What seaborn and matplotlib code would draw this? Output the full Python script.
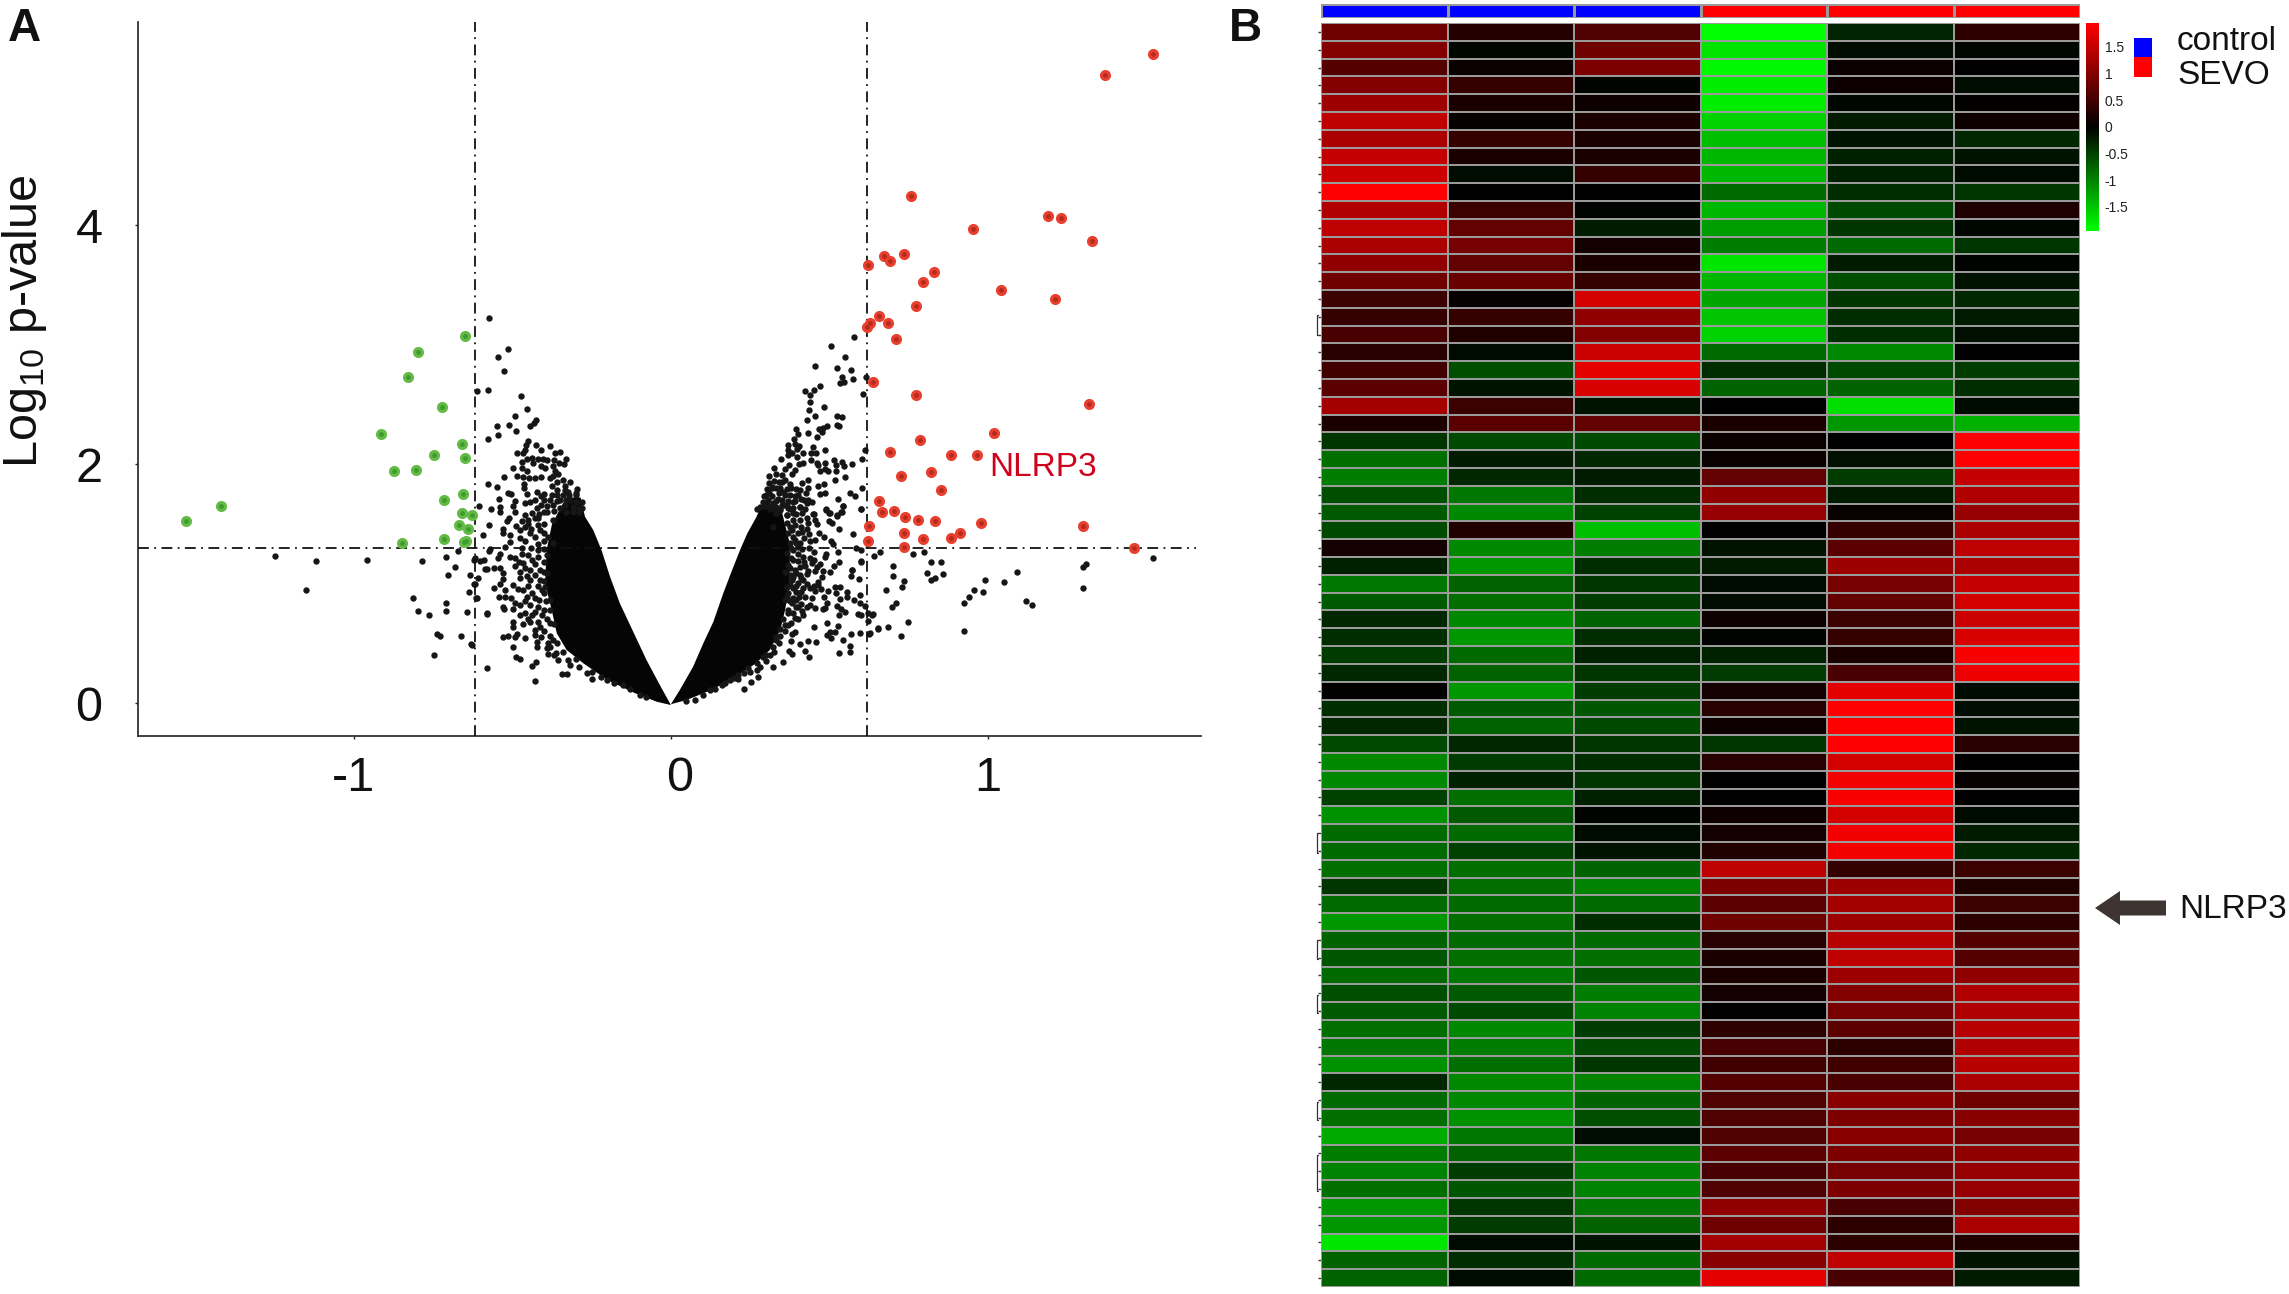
import numpy as np
import pandas as pd
import seaborn as sns
import matplotlib.pyplot as plt
from matplotlib.colors import LinearSegmentedColormap, ListedColormap
from matplotlib.patches import Rectangle, FancyArrow
from matplotlib.transforms import ScaledTranslation

W, H = 2289, 1294

# volcano: significant genes
up_genes = [(1.52,5.43),(1.37,5.26),(.756,4.24),(1.19,4.08),(1.23,4.06),(.953,3.97),(1.329,3.87),(.735,3.76),
    (.672,3.74),(.69,3.70),(.622,3.67),(.829,3.61),(.794,3.52),(1.04,3.46),(1.21,3.38),(.773,3.32),(.657,3.24),
    (.684,3.18),(.629,3.18),(.62,3.15),(.71,3.05),(.638,2.69),(.772,2.58),(1.32,2.50),(1.02,2.26),(.785,2.20),
    (.69,2.10),(.885,2.08),(.967,2.08),(.726,1.90),(.821,1.93),(.852,1.78),(.655,1.69),(.665,1.60),(.703,1.61),
    (.738,1.56),(.78,1.53),(.832,1.52),(.977,1.51),(1.30,1.48),(.626,1.48),(.735,1.42),(.912,1.42),(.883,1.38),
    (.795,1.37),(.621,1.36),(.736,1.31),(1.46,1.30)]
down_genes = [(-.651,3.07),(-.798,2.94),(-.83,2.73),(-.723,2.48),(-.913,2.25),(-.66,2.17),(-.748,2.08),(-.648,2.05),
    (-.873,1.94),(-.805,1.95),(-.657,1.75),(-.717,1.70),(-1.42,1.65),(-1.53,1.52),(-.66,1.59),(-.627,1.57),
    (-.667,1.49),(-.64,1.46),(-.715,1.37),(-.645,1.36),(-.654,1.35),(-.849,1.34)]

# volcano: not significant, scattered genes
right_low = [(.451,.639),(.491,.667),(.526,.644),(.390,.597),(.382,.577),(.502,.597),(.519,.597),(.491,.569),(.504,.547),
    (.380,.519),(.408,.494),(.431,.522),(.457,.510),(.542,.527),(.567,.577),(.596,.583),(.628,.583),(.653,.625),(.566,.480),
    (.564,.430),(.529,.418),(.422,.435),(.434,.388),(.374,.438),(.382,.410),(.354,.340),(.321,.304),(.276,.220),(.251,.176),
    (.231,.120),(.370,.653),(.417,.736),(.438,.820),(.454,.792),(.486,.792),(.491,.834),(.484,.890),(.496,.940),(.517,.968),
    (.534,.973),(.521,.923),(.555,.926),(.556,.884),(.534,.868),(.579,.862),(.597,.907),(.596,.840),(.612,.815),(.525,.812),
    (.536,.784),(.549,.764),(.530,.734),(.589,.742),(.600,.736),(.623,.750),(.636,.748),(.623,.689),(.452,.979),(.465,.987),
    (.456,.937),(.473,.951),(.477,1.052),(.465,1.015),(.502,1.099),(.481,1.105),(.514,1.146),(.531,1.183),(.572,1.113),
    (.569,1.063),(.592,1.035),(.601,1.185),(.489,1.244),(.487,1.219),(.528,1.266),(.470,1.163),(.462,1.141),(.451,1.197),
    (.444,1.169),(.454,1.107),(.433,1.107),(.424,1.146),(.584,1.300),(.599,1.280),(.484,1.386),(.505,1.358),(.510,1.331),
    (.531,1.453),(.573,1.411),(.468,1.425),(.455,1.364),(.436,1.411),(.415,1.431),(.507,1.503),(.499,1.526),(.488,1.615),
    (.501,1.593),(.523,1.568),(.540,1.601),(.544,1.649),(.601,1.621),(.447,1.582),(.455,1.531),(.460,1.498),(.433,1.509),
    (.407,1.531),(.386,1.531),(.365,1.573),(.381,1.448),(.391,1.364),(.386,1.280),(.407,1.336),(.417,1.225),(.407,1.141),
    (.391,1.113),(.381,1.029),(.402,1.001),(.417,.960),(.423,.890),(.396,.862),(.381,.834),(.365,.890),(.386,.750),(.370,.750),
    (.444,.876),(.481,.784),(.323,.471),(.333,.527),(.312,.402),(.291,.388),(.270,.332),(.270,.276),(.244,.290),(.213,.234),
    (.213,.198),(.186,.192),(.160,.151),(.123,.109),(.076,.025),(.049,.017),(.36,.6),(.345,.56),(.33,.55),
    (.302,1.685),(.323,1.643),(.344,1.615),(.365,1.657),(.386,1.629),(.407,1.643),(.428,1.671),(.333,1.587),(.365,1.503),
    (.322,1.475),(.370,1.420),(.386,1.392),(.402,1.308),(.375,1.336),(.365,1.253),(.386,1.197),(.370,1.155),(.360,1.099),
    (.386,1.057),(.407,1.071),(.365,.974),(.386,.960),(.370,.918),(.396,.932),(.417,1.029),(.360,.862),(.402,.806),(.428,.806)]
right_band = [(.375,1.62),(.395,1.58),(.415,1.59),(.43,1.55),(.39,1.49),(.41,1.47),(.43,1.46),(.375,1.47),(.40,1.42),(.42,1.38),
    (.44,1.36),(.395,1.34),(.38,1.30),(.415,1.29),(.435,1.30),(.45,1.26),(.40,1.25),(.38,1.21),(.42,1.18),(.44,1.21),(.40,1.19),
    (.375,1.13),(.43,1.08),(.41,1.05),(.395,1.09),(.38,1.07),(.375,.99),(.395,.98),(.41,.93),(.43,1.0),(.44,.96),(.385,.88),
    (.405,.89),(.375,.85),(.395,.80),(.41,.83),(.415,.77),(.37,.78),(.39,.71),(.38,.67),(.40,.70),(.355,.70),(.36,.65),(.345,.62),
    (.34,.50),(.325,.43),(.30,.40),(.30,.35),(.28,.30),(.25,.26),(.23,.25),(.20,.21),(.17,.17),(.14,.12),(.10,.07),
    (.30,1.74),(.32,1.73),(.34,1.76),(.36,1.74),(.31,1.76),(.33,1.69),(.35,1.70),(.37,1.69),(.39,1.73),(.41,1.71),(.29,1.68),
    (.345,1.80),(.365,1.79),(.38,1.80),(.34,1.85),(.36,1.87),(.40,1.74),(.42,1.70),(.32,1.81),(.385,1.68),(.31,1.65),(.33,1.64),
    (.35,1.66),(.37,1.63)]
right_high = [(.577,3.06),(.506,2.99),(.549,2.90),(.456,2.82),(.524,2.80),(.569,2.79),(.614,2.73),(.541,2.73),(.573,2.71),
    (.547,2.69),(.533,2.68),(.469,2.65),(.451,2.62),(.424,2.61),(.439,2.58),(.606,2.59),(.439,2.52),(.482,2.48),(.435,2.45),
    (.455,2.40),(.523,2.40),(.539,2.39),(.430,2.37),(.523,2.33),(.529,2.32),(.491,2.32),(.481,2.30),(.466,2.29),(.395,2.29),
    (.478,2.27),(.431,2.26),(.402,2.25),(.462,2.23),(.389,2.21),(.391,2.17),(.370,2.16),(.405,2.15),(.449,2.14),(.399,2.13),
    (.486,2.12),(.370,2.12),(.611,2.12),(.381,2.09),(.370,2.08),(.418,2.09),(.441,2.09),(.458,2.09),(.399,2.06),(.347,2.04),
    (.441,2.03),(.603,2.04),(.514,2.03),(.462,2.01),(.418,2.01),(.486,2.01),(.540,2.02),(.405,2.00),(.520,1.99),(.570,2.00),
    (.373,1.99),(.465,1.99),(.546,1.98),(.326,1.97),(.360,1.96),(.391,1.95),(.486,1.96),(.471,1.94),(.494,1.94),(.521,1.94),
    (.333,1.92),(.349,1.91),(.310,1.90),(.381,1.92),(.549,1.89),(.518,1.87),(.431,1.87),(.326,1.86),(.310,1.84),(.413,1.84),
    (.483,1.83),(.349,1.85),(.376,1.83),(.465,1.82),(.433,1.80),(.318,1.80),(.333,1.80),(.304,1.79),(.396,1.79),(.603,1.80),
    (.352,1.77),(.407,1.78),(.487,1.76),(.426,1.76),(.566,1.76),(.580,1.73),(.293,1.73),(.470,1.75),(.376,1.74),(.338,1.71),
    (.526,1.71),(.391,1.69),(.433,1.70),(.307,1.70),(.281,1.64),(.446,1.68),(.356,1.66),(.407,1.64),(.544,1.65),(.489,1.62),
    (.601,1.62),(.273,1.62),(.423,1.62),(.499,1.59),(.525,1.57),(.451,1.58),(.538,1.60),(.323,1.67),(.312,1.62),(.333,1.59),
    (.297,1.65),(.344,1.62),(.365,1.57),(.386,1.59)]
right_far = [(.640,1.23),(.659,1.26),(.699,1.15),(.762,1.25),(.798,1.26),(.821,1.18),(.852,1.18),(.807,1.09),(.859,1.08),
    (.833,1.05),(.819,1.03),(.699,1.06),(.736,1.02),(.730,.97),(.678,.95),(.711,.84),(.697,.80),(.991,1.03),(1.050,1.01),
    (1.091,1.10),(.956,.95),(.940,.89),(.983,.93),(.925,.84),(1.121,.85),(1.140,.82),(1.300,1.14),(1.309,1.16),(1.300,.96),
    (1.520,1.21),(.748,.68),(.684,.64),(.653,.62),(.726,.56),(.926,.60),(.633,.74),(.626,.58),(.601,1.18),(.570,1.11)]
left_high = [(-.575,3.22),(-.513,2.96),(-.546,2.90),(-.525,2.78),(-.611,2.61),(-.578,2.62),(-.474,2.57),(-.455,2.46),(-.493,2.40),
    (-.550,2.32),(-.510,2.33),(-.426,2.37),(-.431,2.34),(-.444,2.32),(-.488,2.28),(-.545,2.24),(-.578,2.21),(-.450,2.19),
    (-.457,2.16),(-.426,2.16),(-.381,2.15),(-.410,2.12),(-.485,2.09),(-.461,2.12),(-.466,2.09),(-.366,2.09),(-.350,2.10),
    (-.330,2.04),(-.471,2.02),(-.453,2.04),(-.437,2.05),(-.434,2.01),(-.418,2.04),(-.405,2.04),(-.390,2.03),(-.368,2.03),
    (-.353,2.01),(-.336,2.00),(-.411,1.98),(-.396,1.97),(-.371,1.98),(-.499,1.97),(-.469,1.97),(-.454,1.94),(-.366,1.94),
    (-.355,1.92),(-.528,1.89),(-.487,1.90),(-.466,1.89),(-.447,1.88),(-.429,1.88),(-.410,1.89),(-.382,1.88),(-.371,1.90),
    (-.342,1.87),(-.358,1.85),(-.319,1.85),(-.576,1.83),(-.550,1.81),(-.463,1.83),(-.463,1.80),(-.376,1.82),(-.334,1.82),
    (-.295,1.79),(-.513,1.76),(-.506,1.75),(-.453,1.75),(-.424,1.77),(-.400,1.75),(-.358,1.78),(-.324,1.77),(-.376,1.74),
    (-.298,1.74),(-.543,1.71),(-.411,1.73),(-.491,1.69),(-.429,1.70),(-.400,1.70),(-.445,1.68),(-.461,1.67),(-.350,1.70),
    (-.319,1.70),(-.282,1.68),(-.605,1.65),(-.569,1.62),(-.539,1.64),(-.499,1.65),(-.421,1.63),(-.371,1.66),(-.334,1.66),
    (-.308,1.64),(-.289,1.63)]
left_low = [(-.539,1.60),(-.574,1.49),(-.594,1.41),(-.529,1.46),(-.510,1.55),(-.492,1.60),(-.461,1.57),(-.439,1.59),(-.518,1.52),
    (-.529,1.42),(-.507,1.41),(-.476,1.45),(-.450,1.50),(-.419,1.55),(-.392,1.60),(-.507,1.35),(-.524,1.31),(-.476,1.38),
    (-.445,1.42),(-.413,1.45),(-.571,1.29),(-.573,1.27),(-.539,1.25),(-.545,1.21),(-.618,1.21),(-.602,1.19),(-.590,1.20),
    (-.508,1.22),(-.492,1.21),(-.471,1.25),(-.439,1.20),(-.419,1.28),(-.492,1.15),(-.466,1.17),(-.587,1.12),(-.579,1.12),
    (-.558,1.13),(-.539,1.13),(-.529,1.09),(-.476,1.10),(-.445,1.11),(-.413,1.11),(-.476,1.05),(-.608,1.05),(-.531,1.04),
    (-.445,1.03),(-.413,1.03),(-.621,1.00),(-.539,.996),(-.497,.987),(-.558,.960),(-.524,.946),(-.482,.951),(-.468,.946),
    (-.437,.923),(-.408,.946),(-.613,.876),(-.543,.890),(-.522,.890),(-.506,.876),(-.455,.890),(-.492,.834),(-.476,.820),
    (-.529,.801),(-.526,.784),(-.497,.784),(-.445,.820),(-.419,.806),(-.461,.750),(-.581,.748),(-.476,.736),(-.497,.681),
    (-.439,.736),(-.408,.736),(-.466,.661),(-.445,.681),(-.497,.633),(-.413,.639),(-.382,.667),(-.529,.550),(-.513,.563),
    (-.492,.550),(-.487,.575),(-.461,.547),(-.429,.569),(-.421,.513),(-.497,.471),(-.424,.471),(-.387,.499),(-.629,.485),
    (-.489,.382),(-.476,.371),(-.388,.410),(-.579,.296),(-.426,.340),(-.438,.310),(-.355,.360),(-.324,.360),(-.319,.318),
    (-.343,.240),(-.327,.243),(-.429,.181),(-.266,.248),(-.248,.201),(-.203,.192),(-.150,.151),(-.098,.067),(-.382,.471),
    (-.371,.527),(-.361,.416),(-.382,.862),(-.397,.973),(-.392,1.085),(-.371,1.336),(-.387,1.392),(-.371,1.531)]
left_band = [(-.40,1.60),(-.415,1.58),(-.43,1.55),(-.45,1.53),(-.47,1.52),(-.40,1.50),(-.42,1.49),(-.44,1.46),(-.46,1.47),(-.49,1.48),
    (-.40,1.42),(-.43,1.39),(-.46,1.36),(-.40,1.36),(-.42,1.33),(-.44,1.30),(-.47,1.30),(-.40,1.29),(-.39,1.24),(-.42,1.22),(-.45,1.24),
    (-.48,1.18),(-.40,1.18),(-.43,1.16),(-.46,1.13),(-.40,1.10),(-.43,1.07),(-.455,1.06),(-.40,1.02),(-.42,.98),(-.45,.98),(-.40,.92),
    (-.43,.88),(-.46,.85),(-.395,.85),(-.415,.86),(-.38,.78),(-.40,.78),(-.43,.76),(-.45,.70),(-.39,.70),(-.42,.68),(-.37,.66),(-.40,.60),
    (-.43,.61),(-.38,.56),(-.41,.55),(-.36,.50),(-.39,.46),(-.34,.43),(-.37,.40),(-.30,.37),(-.29,.30),(-.25,.26),(-.22,.22),(-.18,.17),
    (-.13,.12),(-.08,.05),(-.33,1.60),(-.35,1.63),(-.37,1.61),(-.39,1.65),(-.41,1.66),(-.31,1.60),(-.29,1.60),(-.28,1.63),(-.36,1.69),
    (-.38,1.70),(-.33,1.70),(-.30,1.68),(-.32,1.74),(-.34,1.74),(-.36,1.74),(-.30,1.76),(-.335,1.78)]
left_far = [(-1.25,1.23),(-1.121,1.19),(-.958,1.20),(-.785,1.19),(-.711,1.22),(-.672,1.27),(-.682,1.14),(-.704,1.07),(-.635,1.07),
    (-.621,1.20),(-.618,1.00),(-1.15,.95),(-.813,.88),(-.797,.77),(-.763,.74),(-.710,.84),(-.711,.77),(-.643,.76),(-.636,.93),
    (-.737,.58),(-.727,.56),(-.662,.56),(-.632,.49),(-.746,.40),(-.614,.88),(-.581,.75)]

# outline of the solid black wedges, where the genes cannot be told apart
wedge_right = [(0,-.01),(.028,.109),(.070,.304),(.102,.499),(.134,.681),(.165,.918),(.191,1.099),(.218,1.280),(.241,1.420),
    (.270,1.559),(.293,1.70),(.35,1.60),(.375,1.336),(.375,1.001),(.36,.778),(.345,.611),(.312,.444),(.268,.332),
    (.205,.220),(.128,.109),(.049,.025)]
wedge_left = [(0,-.017),(-.035,.151),(-.077,.360),(-.119,.597),(-.161,.834),(-.192,1.057),(-.219,1.280),(-.245,1.448),
    (-.271,1.559),(-.285,1.72),(-.33,1.72),(-.375,1.5),(-.392,1.28),(-.397,1.001),(-.376,.778),(-.36,.583),(-.329,.444),(-.276,.332),
    (-.2,.192),(-.112,.081),(-.045,.011)]

fc_cut = [-0.618, 0.618]
p_cut = 1.3
x_ticks = [-1, 0, 1]
y_ticks = [0, 2, 4]

# heatmap, one row per gene: control x3, SEVO x3
rows_top = [[.86,.28,.6,-1.95,-.28,.35],[1.0,-.05,.85,-1.75,-.1,-.05],[.65,.08,.95,-1.9,.08,0],[1.0,.4,-.03,-1.8,.1,-.1],
    [1.2,.2,.1,-1.8,-.05,.02],[1.45,.05,.2,-1.6,-.2,.12],[1.3,.4,.2,-1.45,-.15,-.3],[1.5,.2,.2,-1.4,-.25,-.15],
    [1.55,-.1,.4,-1.4,-.25,-.08],[1.95,0,0,-.8,-.35,-.4],[1.35,.45,-.02,-1.4,-.55,.22],[1.45,.75,-.2,-1.2,-.4,-.05],
    [1.3,.9,.15,-.95,-.8,-.4],[1.1,.75,.2,-1.75,-.2,-.03],[.85,.8,.4,-1.4,-.6,-.15],[.45,.05,1.6,-1.25,-.4,-.3],
    [.4,.4,1.1,-1.5,-.35,-.2],[.55,.25,1.0,-1.6,-.35,-.12],[.3,-.08,1.55,-.8,-1.05,0],[.5,-.6,1.75,-.35,-.55,-.45],
    [.7,-.15,1.65,-.75,-.75,-.35],[1.25,.45,-.15,0,-1.7,-.08],[.2,.7,.75,.2,-1.15,-1.35],[-.4,-.55,-.55,.08,0,1.95]]
rows_mid = [[-.85,-.2,-.3,.08,-.12,1.95],[-.95,-.3,-.2,.75,-.45,1.5],[-.6,-.9,-.35,1.1,-.2,1.35],[-.7,-1.05,-.5,1.15,.07,1.15],
    [-.55,.25,-1.45,0,.4,1.3],[.15,-1.05,-.95,-.15,.7,1.45],[-.25,-1.15,-.35,-.2,1.2,1.3],[-.9,-.75,-.4,-.08,.9,1.5],
    [-.7,-.85,-.45,-.1,.75,1.6],[-.3,-1.05,-.75,.1,.45,1.55],[-.35,-1.15,-.35,-.03,.4,1.65],[-.45,-.8,-.25,-.25,.2,1.9],
    [-.3,-.75,-.4,-.45,.55,1.8],[0,-1.15,-.45,.15,1.75,-.08],[-.35,-.7,-.65,.3,1.95,-.1],[-.3,-.75,-.55,.12,1.95,-.15],
    [-.55,-.3,-.4,-.4,1.95,.3],[-1.05,-.45,-.35,.3,1.6,0],[-1.05,-.25,-.4,0,1.85,.05],[-.5,-.85,-.25,0,1.9,0],
    [-1.1,-.7,-.03,.12,1.6,-.08],[-.8,-.8,-.08,.15,1.85,-.2],[-.8,-.5,-.15,.25,1.85,-.3]]
rows_low = [[-.85,-.85,-.75,1.45,.4,.45],[-.4,-.85,-1.0,.95,1.2,.25],[-.8,-.8,-.8,.7,1.25,.45],[-1.15,-.85,-.35,.85,1.2,.35],
    [-.75,-.8,-.8,.3,1.4,.65],[-.65,-.85,-.85,.2,1.45,.65],[-.8,-.9,-.65,.2,1.2,1.1],[-.6,-.7,-.95,.15,1.0,1.35],
    [-.7,-.55,-1.0,0,.9,1.35],[-.85,-1.05,-.45,.35,.7,1.4],[-.9,-.95,-.55,.55,.35,1.35],[-1.1,-.85,-.4,.5,.5,1.4],
    [-.3,-1.05,-1.0,.65,.55,1.3],[-.8,-1.05,-.75,.6,1.05,.85],[-.85,-1.1,-.6,.6,.95,1.05],[-1.3,-.9,-.1,.6,1.05,.9],
    [-.95,-.75,-.9,.7,.95,1.1],[-1.0,-.45,-1.0,.55,.9,1.15],[-.85,-.65,-1.0,.6,.95,1.15],[-1.15,-.4,-.9,1.1,.55,1.0],
    [-1.15,-.45,-.75,.85,.35,1.3],[-1.75,-.08,-.15,1.25,.35,.25],[-.75,-.35,-.8,1.05,1.45,-.15],[-.75,-.08,-.8,1.75,.55,-.2]]
group_codes = [0, 0, 0, 1, 1, 1]
group_names = ["control", "SEVO"]
cbar_ticks = [-1.5, -1, -0.5, 0, 0.5, 1, 1.5]
cbar_labels = ["-1.5", "-1", "-0.5", "0", "0.5", "1", "1.5"]
# rows where clipped gene labels leave a small bracket left of the heatmap
bracket_rows = [(16.4, 17.5), (45.5, 46.6), (51.5, 52.6), (54.6, 55.6), (60.6, 61.6), (63.6, 65.6)]

sns.set_theme(style="white")
plt.rcParams['font.family'] = ['Liberation Sans', 'DejaVu Sans']
plt.rcParams['mathtext.default'] = 'regular'


def box(x0, y0, x1, y1):
    # pixel box of the reference to figure fractions
    return [x0 / W, 1 - y1 / H, (x1 - x0) / W, (y1 - y0) / H]


fig = plt.figure(figsize=(W / 100, H / 100), dpi=100, facecolor="white")

# A: volcano
ax = fig.add_axes(box(138, 22, 1201, 736))
black = pd.DataFrame(right_low + right_band + right_high + right_far + left_high + left_low + left_band + left_far,
                     columns=["fc", "p"])
up = pd.DataFrame(up_genes, columns=["fc", "p"])
down = pd.DataFrame(down_genes, columns=["fc", "p"])
ax.fill(*zip(*wedge_right), color="#050505", lw=0, zorder=2)
ax.fill(*zip(*wedge_left), color="#050505", lw=0, zorder=2)
sns.scatterplot(data=black, x="fc", y="p", color="#161616", s=21, linewidth=0, ax=ax, zorder=2)
for v in fc_cut:
    ax.axvline(v, color="#111111", lw=1.3, ls=(0, (6, 3, 1, 3)), zorder=3)
ax.plot([-1.681, 1.655], [p_cut, p_cut], color="#111111", lw=1.3, ls=(0, (6, 3, 1, 3)), zorder=3)
sns.scatterplot(data=up, x="fc", y="p", color="#e8402f", s=64, linewidth=0, ax=ax, zorder=4)
sns.scatterplot(data=up, x="fc", y="p", color="#b52a1e", s=12, linewidth=0, ax=ax, zorder=5)
sns.scatterplot(data=down, x="fc", y="p", color="#63bb46", s=64, linewidth=0, ax=ax, zorder=4)
sns.scatterplot(data=down, x="fc", y="p", color="#3f9a32", s=12, linewidth=0, ax=ax, zorder=5)
ax.set_xlim(-1.681, 1.672)
ax.set_ylim(-0.276, 5.70)
ax.set_xticks(x_ticks)
ax.set_xticklabels([str(t) for t in x_ticks], fontsize=35, color="#111111")
ax.set_yticks(y_ticks)
ax.set_yticklabels([str(t) for t in y_ticks], fontsize=35, color="#111111")
ax.tick_params(bottom=True, left=True, length=2.5, width=1, color="#222222")
ax.tick_params(axis="x", pad=12)
ax.tick_params(axis="y", pad=23)
zero_label = ax.get_xticklabels()[1]
zero_label.set_transform(zero_label.get_transform() + ScaledTranslation(6 / 72, 0, fig.dpi_scale_trans))
ax.set_xlabel("")
ax.set_ylabel("")
for s in ["top", "right"]:
    ax.spines[s].set_visible(False)
for s in ["left", "bottom"]:
    ax.spines[s].set_color("#333333")
    ax.spines[s].set_linewidth(1.3)

# B: group strip on top of the heatmap
ax_grp = fig.add_axes(box(1321, 4, 2080, 18))
sns.heatmap([group_codes], ax=ax_grp, cmap=ListedColormap(["#0000ff", "#ff0000"]), cbar=False, linewidths=0.8,
            linecolor="#9a9a9a", xticklabels=False, yticklabels=False)

# B: heatmap and its colour bar
heat = np.array(rows_top + rows_mid + rows_low)
gbr = LinearSegmentedColormap.from_list("gbr", ["#00ff00", "#000000", "#ff0000"], N=256)
ax_heat = fig.add_axes(box(1321, 23, 2080, 1287))
ax_cb = fig.add_axes(box(2086, 23, 2099, 231))
sns.heatmap(heat, ax=ax_heat, cmap=gbr, vmin=-1.95, vmax=1.95, linewidths=1.1, linecolor="#9a9a9a",
            xticklabels=False, cbar_ax=ax_cb, cbar_kws={"ticks": cbar_ticks})
ax_heat.set_yticks(np.arange(len(heat)) + 0.5)
ax_heat.set_yticklabels([])
ax_heat.tick_params(left=True, length=2, width=1, color="#333333", pad=0)
for a, b in bracket_rows:
    ax_heat.plot([-0.02, -0.03, -0.03, -0.02], [a, a, b, b], color="#333333", lw=0.9, clip_on=False)
ax_cb.set_yticks(cbar_ticks)
ax_cb.set_yticklabels(cbar_labels, fontsize=10, color="#222222")
ax_cb.tick_params(right=False, length=0, pad=4)

# text, legend and arrow, placed in reference pixels
ov = fig.add_axes([0, 0, 1, 1], facecolor="none")
ov.set_xlim(0, W)
ov.set_ylim(H, 0)
ov.axis("off")
ov.text(8, 29, "A", fontsize=33, fontweight="bold", va="center", color="#111111")
ov.text(1229, 29, "B", fontsize=33, fontweight="bold", va="center", color="#111111")
ov.text(25, 321, "Log$_{10}$ p-value", fontsize=35, rotation=90, ha="center", va="center", color="#111111")
ov.text(989, 467, "NLRP3", fontsize=24, va="center", color="#d0021b")
ov.add_patch(Rectangle((2134, 38), 18, 19, color="#0000ff", lw=0))
ov.add_patch(Rectangle((2134, 57), 18, 20, color="#ff0000", lw=0))
ov.text(2177, 41, group_names[0], fontsize=24, va="center", color="#111111")
ov.text(2177, 75, group_names[1], fontsize=24, va="center", color="#111111")
ov.add_patch(FancyArrow(2166, 908, -71, 0, width=15, head_width=34, head_length=25,
                        length_includes_head=True, color="#3e3533", lw=0))
ov.text(2179, 910, "NLRP3", fontsize=24, va="center", color="#111111")

fig.savefig("out.png", dpi=100)
